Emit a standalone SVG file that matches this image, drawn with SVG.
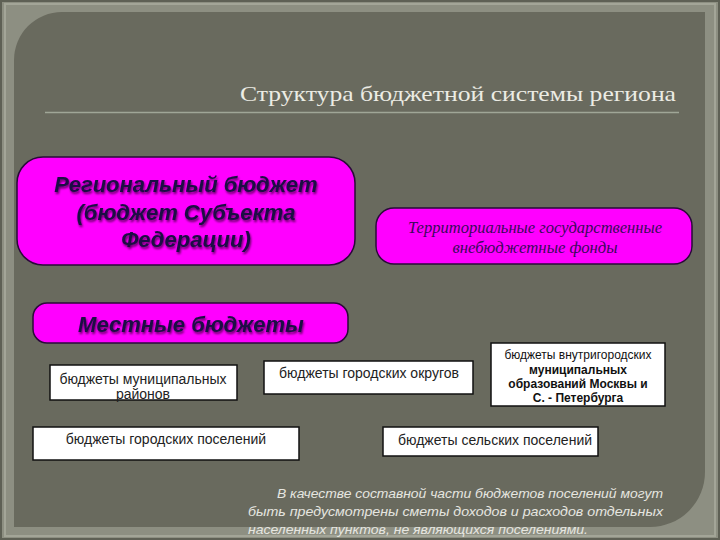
<svg xmlns="http://www.w3.org/2000/svg" width="720" height="540" viewBox="0 0 720 540">
<style>
.mag{fill:#ff00ff;stroke:#2a0a3a;stroke-width:1.5}
.wb{fill:#ffffff;stroke:#111111;stroke-width:1.5}
.big{font-family:"Liberation Sans",Arial,sans-serif;font-weight:bold;font-style:italic;font-size:22px;fill:#1c0c44;text-anchor:middle}
.sm{font-family:"Liberation Sans",Arial,sans-serif;font-size:14px;fill:#222222;text-anchor:middle}
.xs{font-family:"Liberation Sans",Arial,sans-serif;font-size:12px;fill:#111111;text-anchor:middle}
.xsb{font-family:"Liberation Sans",Arial,sans-serif;font-size:12px;font-weight:bold;fill:#111111;text-anchor:middle}
.fund{font-family:"Liberation Serif","DejaVu Serif",serif;font-style:italic;font-size:16px;fill:#3a0a5a;text-anchor:middle}
.note{font-family:"Liberation Sans",Arial,sans-serif;font-style:italic;font-size:13px;fill:#e6e6e0}
</style>
<defs>
<filter id="sh" x="-10%" y="-10%" width="120%" height="130%">
<feGaussianBlur in="SourceAlpha" stdDeviation="1"/>
<feOffset dx="1" dy="1.5" result="b"/>
<feFlood flood-color="#000000" flood-opacity="0.6"/>
<feComposite in2="b" operator="in"/>
<feMerge><feMergeNode/><feMergeNode in="SourceGraphic"/></feMerge>
</filter>
</defs>
<!-- background frame -->
<rect x="0" y="0" width="720" height="540" fill="#8d8f82"/>
<rect x="1" y="1" width="718" height="538" fill="none" stroke="#5e6055" stroke-width="2"/>
<rect x="5" y="4" width="710" height="532" fill="none" stroke="#a3a598" stroke-width="2"/>
<path d="M14,60 A48,48 0 0 1 62,12 L705,12 L705,472 A55,55 0 0 1 650,527 L14,527 Z" fill="#696a5e"/>
<!-- title -->
<g id="title">
<text x="676" y="101" font-family="'Liberation Serif','DejaVu Serif',serif" font-size="22" fill="#ecece4" text-anchor="end" textLength="436" lengthAdjust="spacingAndGlyphs">Структура бюджетной системы региона</text>
<line x1="45" y1="112.5" x2="679" y2="112.5" stroke="#a0a697" stroke-width="1.5"/>
</g>
<g id="connectors"/>
<g id="regional">
<rect class="mag" x="17" y="157" width="338" height="108" rx="26"/>
<g filter="url(#sh)">
<text class="big" x="186" y="192">Региональный бюджет</text>
<text class="big" x="186" y="220">(бюджет Субъекта</text>
<text class="big" x="186" y="247">Федерации)</text>
</g>
</g>
<g id="funds">
<rect class="mag" x="376" y="208" width="316" height="56" rx="18"/>
<text class="fund" x="535" y="233" textLength="254" lengthAdjust="spacingAndGlyphs">Территориальные государственные</text>
<text class="fund" x="535" y="253" textLength="165" lengthAdjust="spacingAndGlyphs">внебюджетные фонды</text>
</g>
<g id="local">
<rect class="mag" x="33" y="303" width="315" height="40" rx="14"/>
<g filter="url(#sh)">
<text class="big" x="191" y="332">Местные бюджеты</text>
</g>
</g>
<g id="municipal">
<rect class="wb" x="50" y="365" width="187" height="35"/>
<text class="sm" x="143" y="384">бюджеты муниципальных</text>
<text class="sm" x="143" y="399">районов</text>
</g>
<g id="urban-districts">
<rect class="wb" x="264" y="361" width="209" height="33"/>
<text class="sm" x="369" y="378">бюджеты городских округов</text>
</g>
<g id="intracity">
<rect class="wb" x="491" y="343" width="174" height="63"/>
<text class="xs" x="578" y="359">бюджеты внутригородских</text>
<text class="xsb" x="578" y="374">муниципальных</text>
<text class="xsb" x="578" y="388">образований Москвы и</text>
<text class="xsb" x="578" y="402">С. - Петербурга</text>
</g>
<g id="urban-settlements">
<rect class="wb" x="33" y="427" width="266" height="33"/>
<text class="sm" x="166" y="444">бюджеты городских поселений</text>
</g>
<g id="rural-settlements">
<rect class="wb" x="383" y="427" width="215" height="29"/>
<text class="sm" x="495" y="445">бюджеты сельских поселений</text>
</g>
<g id="note">
<text class="note" x="277" y="498" textLength="386" lengthAdjust="spacingAndGlyphs">В качестве составной части бюджетов поселений могут</text>
<text class="note" x="248" y="516" textLength="415" lengthAdjust="spacingAndGlyphs">быть предусмотрены сметы доходов и расходов отдельных</text>
<text class="note" x="248" y="534" textLength="340" lengthAdjust="spacingAndGlyphs">населенных пунктов, не являющихся поселениями.</text>
</g>
</svg>
